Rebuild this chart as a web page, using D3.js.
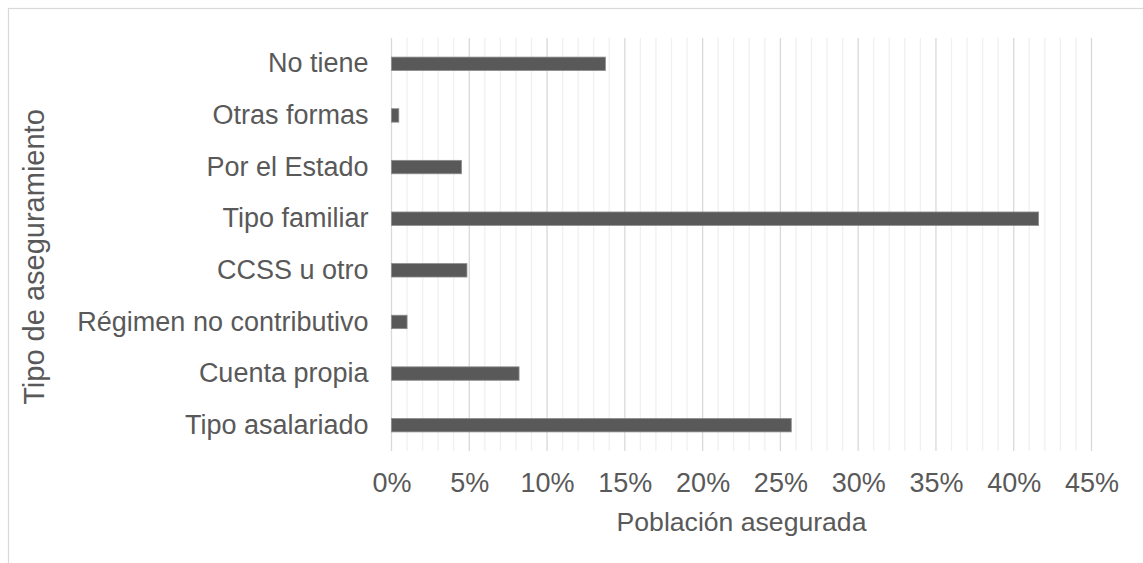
<!DOCTYPE html>
<html>
<head>
<meta charset="utf-8">
<script src="https://cdn.jsdelivr.net/npm/d3@7"></script>
<style>
  html, body { margin: 0; padding: 0; background: #fff; }
  svg { display: block; }
  text { font-family: "Liberation Sans", Arial, sans-serif; fill: #595959; }
</style>
</head>
<body>
<svg id="chart" width="1143" height="563"></svg>
<script>
// Insurance type categories, top to bottom
const categories = [
  "No tiene",
  "Otras formas",
  "Por el Estado",
  "Tipo familiar",
  "CCSS u otro",
  "Régimen no contributivo",
  "Cuenta propia",
  "Tipo asalariado"
];
// Share of insured population (%)
const values = [13.75, 0.47, 4.5, 41.6, 4.85, 1.0, 8.2, 25.7];
// Major ticks (%) and minor grid step
const majorTicks = [0, 5, 10, 15, 20, 25, 30, 35, 40, 45];
const minorTicks = d3.range(0, 46, 1);
const xTitle = "Población asegurada";
const yTitle = "Tipo de aseguramiento";

const svg = d3.select("#chart");
const margin = { left: 391.5, right: 1091.5, top: 38, bottom: 451 };
const FONT = 27;

// outer frame
svg.append("rect")
  .attr("x", 8.5).attr("y", 8.5)
  .attr("width", 1200).attr("height", 600)
  .attr("fill", "none").attr("stroke", "#d9d9d9").attr("stroke-width", 1.2);

const x = d3.scaleLinear().domain([0, 45]).range([margin.left, margin.right]);
const y = d3.scaleBand().domain(categories)
  .range([margin.top, margin.bottom])
  .paddingInner(0.74).paddingOuter(0.37);

// minor gridlines
svg.append("g").selectAll("line")
  .data(minorTicks.filter(d => d % 5 !== 0))
  .join("line")
  .attr("x1", d => x(d)).attr("x2", d => x(d))
  .attr("y1", margin.top).attr("y2", margin.bottom)
  .attr("stroke", "#f0f0f0").attr("stroke-width", 1.3);

// major gridlines
svg.append("g").selectAll("line")
  .data(majorTicks)
  .join("line")
  .attr("x1", d => x(d)).attr("x2", d => x(d))
  .attr("y1", margin.top).attr("y2", margin.bottom)
  .attr("stroke", "#d9d9d9").attr("stroke-width", 1.3);

// bars
svg.append("g").selectAll("rect")
  .data(categories.map((c, i) => ({ c, v: values[i] })))
  .join("rect")
  .attr("x", x(0))
  .attr("y", d => y(d.c))
  .attr("width", d => x(d.v) - x(0))
  .attr("height", y.bandwidth())
  .attr("fill", "#595959")
  .attr("stroke", "#8c8c8c").attr("stroke-width", 0.8);

// x axis labels
const xAxis = d3.axisBottom(x).tickValues(majorTicks)
  .tickFormat(d => d + "%").tickSize(0).tickPadding(0);
const gx = svg.append("g").attr("transform", `translate(0, 472.8)`).call(xAxis);
gx.select(".domain").remove();
gx.selectAll("text").attr("font-size", FONT).style("fill", "#595959")
  .attr("font-family", '"Liberation Sans", Arial, sans-serif');

// y axis labels
const yAxis = d3.axisLeft(y).tickSize(0).tickPadding(23);
const gy = svg.append("g").attr("transform", `translate(${margin.left}, 0)`).call(yAxis);
gy.select(".domain").remove();
gy.selectAll("text").attr("font-size", FONT).style("fill", "#595959")
  .attr("font-family", '"Liberation Sans", Arial, sans-serif');

// axis titles
svg.append("text")
  .attr("x", (margin.left + margin.right) / 2).attr("y", 531)
  .attr("text-anchor", "middle").attr("font-size", 26.6)
  .text(xTitle);

svg.append("text")
  .attr("transform", `translate(44, 257) rotate(-90)`)
  .attr("text-anchor", "middle").attr("font-size", 29)
  .text(yTitle);
</script>
</body>
</html>
